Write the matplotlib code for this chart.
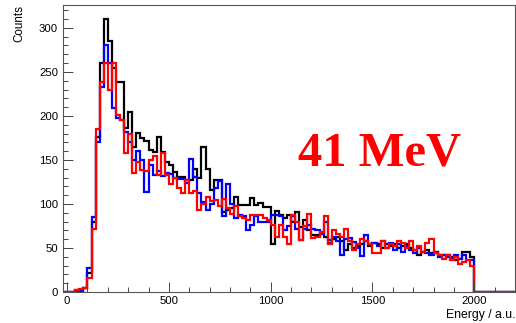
import numpy as np
import matplotlib.pyplot as plt
from matplotlib.ticker import MultipleLocator

# Histogram binning (a.u.), first filled bin starts at 40
bin_width = 20
first_bin = 40
x_min, x_max = -20, 2200

counts_black = [2, 2, 5, 22, 80, 176, 260, 310, 285, 254,
                239, 238, 186, 205, 165, 181, 175, 171, 161, 159,
                176, 159, 148, 144, 136, 131, 131, 127, 127, 140,
                130, 165, 140, 116, 127, 127, 91, 93, 95, 108,
                99, 99, 99, 107, 99, 101, 97, 97, 55, 92,
                88, 84, 88, 80, 91, 74, 82, 70, 65, 65,
                66, 62, 56, 60, 62, 58, 48, 54, 50, 52,
                55, 58, 52, 56, 54, 50, 54, 52, 55, 50,
                52, 54, 50, 48, 42, 46, 48, 44, 46, 42,
                42, 42, 40, 36, 38, 45, 45, 40]

counts_blue = [1, 1, 5, 27, 85, 170, 233, 280, 260, 209,
               198, 195, 182, 170, 150, 160, 150, 114, 144, 133,
               138, 132, 135, 134, 130, 128, 128, 124, 151, 131,
               112, 102, 93, 100, 118, 126, 86, 123, 100, 84,
               88, 86, 70, 76, 86, 80, 80, 80, 87, 87,
               86, 70, 75, 86, 72, 59, 72, 76, 72, 70,
               66, 79, 59, 62, 58, 42, 60, 61, 57, 50,
               41, 65, 55, 56, 52, 58, 50, 56, 48, 54,
               46, 52, 48, 44, 50, 46, 44, 42, 46, 40,
               42, 40, 38, 42, 38, 42, 36, 36]

counts_red = [2, 3, 5, 16, 72, 185, 239, 260, 230, 260,
              201, 195, 158, 180, 135, 148, 139, 137, 150, 154,
              133, 158, 133, 123, 129, 118, 112, 127, 112, 115,
              93, 100, 108, 103, 104, 98, 106, 95, 89, 98,
              86, 84, 82, 88, 88, 87, 84, 82, 76, 63,
              76, 63, 54, 87, 80, 59, 75, 89, 61, 62,
              68, 86, 54, 70, 66, 62, 72, 58, 48, 55,
              60, 58, 55, 44, 44, 58, 50, 55, 52, 58,
              56, 50, 58, 48, 52, 45, 56, 60, 44, 42,
              38, 42, 36, 40, 32, 34, 36, 30]

edges = np.arange(x_min, x_max + bin_width, bin_width)


def full_hist(counts):
    """Pad the filled bins with empty bins over the whole axis range."""
    h = np.zeros(len(edges) - 1)
    start = (first_bin - x_min) // bin_width
    h[start:start + len(counts)] = counts
    return h


plt.rcParams['font.family'] = ['Liberation Sans', 'DejaVu Sans']

fig = plt.figure(figsize=(5.16, 3.23), dpi=100)
ax = fig.add_axes([63 / 516, 31 / 323, 452 / 516, 287 / 323])

for counts, color in [(counts_black, 'black'), (counts_blue, '#0000ff'), (counts_red, '#ff0000')]:
    ax.stairs(full_hist(counts), edges, color=color, linewidth=1.6)

ax.set_xlim(x_min, x_max)
ax.set_ylim(0, 326)

ax.xaxis.set_major_locator(MultipleLocator(500))
ax.xaxis.set_minor_locator(MultipleLocator(100))
ax.yaxis.set_major_locator(MultipleLocator(50))
ax.yaxis.set_minor_locator(MultipleLocator(10))
ax.tick_params(which='both', direction='in', top=False, right=False, labelsize=8.2, width=0.7, color='#444444')
ax.tick_params(which='major', length=7)
ax.tick_params(which='minor', length=3.5)
ax.tick_params(axis='x', pad=3)
for s in ax.spines.values():
    s.set_linewidth(0.8)
    s.set_color('#555555')

ax.set_ylabel('Counts', fontsize=8.4, loc='top', labelpad=10)
ax.set_xlabel('Energy / a.u.', fontsize=8.8, loc='right', labelpad=2)

ax.text(0.52, 0.44, '41 MeV', transform=ax.transAxes, color='#ff0000',
        fontsize=35, fontweight='bold', family=['Liberation Serif'], ha='left', va='baseline')

fig.savefig('out.png', dpi=100)
